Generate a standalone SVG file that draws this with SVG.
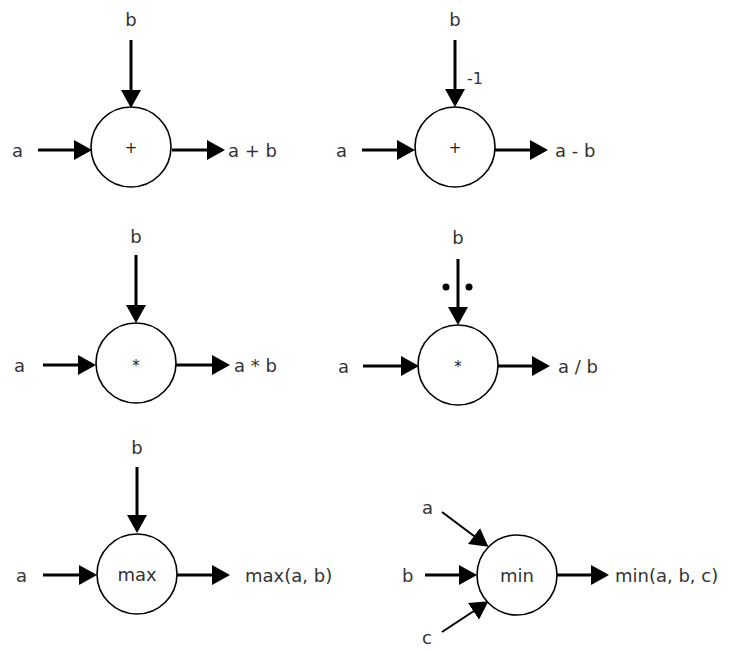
<svg xmlns="http://www.w3.org/2000/svg" width="730" height="650" viewBox="0 0 730 650">
<defs>
<marker id="ah" viewBox="0 0 18 20" refX="15" refY="10" markerWidth="18" markerHeight="20" markerUnits="userSpaceOnUse" orient="auto">
<path d="M0,0 L18,10 L0,20 Z" fill="#000"/>
</marker>
<style>
.node circle{fill:#fff;stroke:#000;stroke-width:1.6}
.lbl{font-family:"DejaVu Sans",Verdana,sans-serif;font-size:18px;fill:#333}
.op{font-family:"DejaVu Sans",Verdana,sans-serif;font-size:15px;fill:#222;text-anchor:middle}
.fn{font-family:"DejaVu Sans",Verdana,sans-serif;font-size:18px;fill:#333;text-anchor:middle}
.edges line{stroke:#000;stroke-width:3;marker-end:url(#ah)}
.mid{text-anchor:middle}
</style>
</defs>
<rect width="730" height="650" fill="#fff"/>
<g class="edges">
<line x1="131" y1="40" x2="131" y2="105"/>
<line x1="38" y1="150" x2="89" y2="150"/>
<line x1="172" y1="150" x2="222" y2="150"/>
<line x1="455" y1="40" x2="455" y2="104"/>
<line x1="362" y1="150" x2="412" y2="150"/>
<line x1="495" y1="150" x2="545" y2="150"/>
<line x1="136" y1="255" x2="136" y2="320"/>
<line x1="43" y1="365" x2="93" y2="365"/>
<line x1="176" y1="365" x2="227" y2="365"/>
<line x1="458" y1="259" x2="458" y2="322"/>
<line x1="363" y1="366" x2="416" y2="366"/>
<line x1="497" y1="366" x2="547" y2="366"/>
<line x1="137" y1="467" x2="137" y2="530"/>
<line x1="43" y1="575" x2="94" y2="575"/>
<line x1="177" y1="575" x2="227" y2="575"/>
<line x1="442" y1="512" x2="486" y2="545" style="stroke-width:2"/>
<line x1="425" y1="575" x2="474" y2="575"/>
<line x1="442" y1="632" x2="486" y2="603" style="stroke-width:2"/>
<line x1="556" y1="575" x2="606" y2="575"/>
</g>
<g id="add" class="node">
<circle cx="131" cy="147" r="40"/>
<text class="op" x="131" y="153">+</text>
<text class="lbl mid" x="131" y="26">b</text>
<text class="lbl" x="12" y="157">a</text>
<text class="lbl" x="228" y="157">a + b</text>
</g>
<g id="sub" class="node">
<circle cx="455" cy="147" r="40"/>
<text class="op" x="455" y="153">+</text>
<text class="lbl mid" x="455" y="26">b</text>
<text class="lbl" x="467" y="84" style="font-size:16px">-1</text>
<text class="lbl" x="336" y="157">a</text>
<text class="lbl" x="555" y="157">a - b</text>
</g>
<g id="mul" class="node">
<circle cx="136" cy="363" r="40"/>
<text class="op" x="136" y="371">*</text>
<text class="lbl mid" x="136" y="243">b</text>
<text class="lbl" x="14" y="372">a</text>
<text class="lbl" x="234" y="372">a * b</text>
</g>
<g id="div" class="node">
<circle cx="458" cy="365" r="40"/>
<text class="op" x="458" y="372">*</text>
<text class="lbl mid" x="458" y="244">b</text>
<circle cx="446" cy="287" r="3.5" style="fill:#000;stroke:none"/>
<circle cx="469" cy="287" r="3.5" style="fill:#000;stroke:none"/>
<text class="lbl" x="338" y="373">a</text>
<text class="lbl" x="558" y="373">a / b</text>
</g>
<g id="max" class="node">
<circle cx="137" cy="574" r="40"/>
<text class="fn" x="137" y="581">max</text>
<text class="lbl mid" x="137" y="454">b</text>
<text class="lbl" x="16" y="582">a</text>
<text class="lbl" x="245" y="582">max(a, b)</text>
</g>
<g id="min" class="node">
<circle cx="517" cy="575" r="40"/>
<text class="fn" x="517" y="582">min</text>
<text class="lbl" x="422" y="514">a</text>
<text class="lbl" x="402" y="582">b</text>
<text class="lbl" x="422" y="644">c</text>
<text class="lbl" x="615" y="582">min(a, b, c)</text>
</g>
</svg>
